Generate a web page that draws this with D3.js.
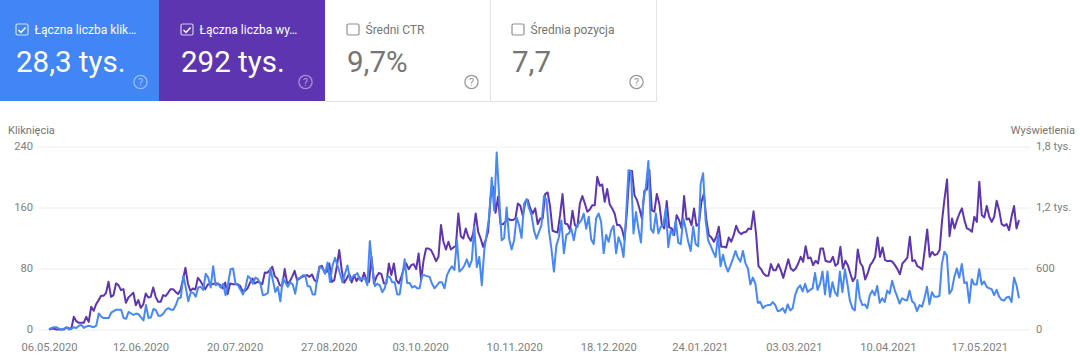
<!DOCTYPE html>
<html>
<head>
<meta charset="utf-8">
<script src="https://cdn.jsdelivr.net/npm/d3@7"></script>
<style>
  html, body { margin: 0; padding: 0; background: #fff; }
  svg { display: block; font-family: Roboto, sans-serif; }
</style>
</head>
<body>
<svg id="chart" width="1080" height="359"></svg>
<script>
// one value per day-ish step
var clicks = [
  0,2,3,3,1,0,1,3,0,1,3,2,5,6,2,4,5,4,3,5,
  21,17,15,15,15,22,24,26,26,26,15,14,23,21,19,21,20,16,12,32,
  15,16,27,25,18,18,21,26,28,26,26,32,41,42,70,55,37,49,48,43,
  55,56,52,73,68,55,83,58,60,55,60,45,60,79,80,60,58,52,46,55,
  70,67,60,68,66,60,45,46,
  48,80,65,49,56,37,67,62,56,62,59,47,67,68,71,71,57,56,46,46,
  73,82,80,73,88,62,84,94,84,73,62,73,84,65,69,71,74,65,67,67,
  58,116,82,57,60,58,49,54,69,69,62,62,46,46,69,92,61,61,55,57,
  54,54,71,71,70,69,60,54,58,62,62,54,71,78,83,78,117,76,79,84,
  92,82,91,135,82,95,58,104,126,148,199,156,232,174,117,120,160,119,105,117,
  147,137,120,165,171,159,150,130,119,
  128,137,175,170,130,106,76,110,121,143,100,124,126,132,117,135,139,143,152,132,
  148,118,112,146,152,141,100,124,115,130,136,100,121,112,95,148,209,207,126,154,
  132,114,170,187,221,132,127,152,126,135,137,159,108,130,124,143,114,112,146,132,
  115,103,135,112,109,191,205,143,117,110,102,95,124,83,98,84,76,84,93,103,
  94,89,103,87,80,59,68,60,35,36,28,31,32,32,36,32,24,25,28,22,
  33,25,28,45,54,58,50,60,49,
  52,54,74,52,60,76,46,76,43,62,49,44,76,49,79,60,38,28,25,65,
  41,32,33,28,45,51,45,57,35,41,36,51,47,64,52,43,34,41,39,38,
  51,37,34,24,32,30,41,56,33,49,43,43,44,86,102,97,47,52,69,80,
  68,86,61,62,35,66,59,59,79,59,63,56,54,53,45,52,43,39,38,42,
  43,36,68,58,41
];

var impressions = [
  0,7,7,0,0,0,0,20,13,7,125,82,66,66,66,125,75,223,184,249,
  289,331,331,361,469,321,338,453,436,387,397,262,315,338,361,239,289,213,246,354,
  315,321,413,321,272,272,338,328,361,397,397,371,348,387,492,607,453,380,403,394,
  508,479,436,397,443,446,446,453,453,436,403,462,348,453,446,446,446,430,380,380,
  403,459,502,453,469,462,446,561,558,
  584,617,525,502,436,426,594,453,469,518,577,485,502,518,525,535,518,541,485,469,
  617,626,567,567,649,469,485,617,781,584,459,502,551,462,535,476,518,476,558,485,
  469,715,453,518,558,544,453,453,649,535,649,485,453,518,594,649,594,633,643,594,
  748,485,682,797,797,781,731,672,715,1027,863,787,863,787,807,820,1141,918,895,994,
  912,872,945,1141,961,895,813,879,961,1299,1404,1148,1305,1036,1036,1059,1092,1076,1076,1092,
  1240,1217,1115,1256,1273,1191,1141,1191,1036,
  1092,1092,1332,1348,1207,971,961,955,1125,1332,1043,1036,977,1168,1027,1010,1240,1312,1240,1158,
  1181,1223,1223,1502,1414,1427,1256,1381,1233,1191,1141,1027,1027,987,879,1174,1561,1558,1322,1273,
  1191,1092,1364,1378,1568,1174,1158,1332,1240,1036,994,1263,1004,994,928,1125,1076,994,1312,1082,
  1092,1027,1191,1020,1043,1256,1338,1076,928,905,863,912,1010,813,813,807,905,863,928,1020,
  961,938,955,961,994,987,1164,945,623,594,551,528,528,643,584,584,643,584,508,600,
  692,600,577,600,649,715,666,820,699,
  708,633,676,649,797,797,676,666,666,715,626,649,813,600,676,633,551,476,512,787,
  656,617,492,551,633,666,715,905,715,807,682,672,676,666,633,594,544,649,676,708,
  912,672,682,623,610,590,781,984,715,764,731,741,781,1076,1289,1476,918,1092,994,1076,
  1141,1191,1076,994,984,961,1109,1059,1453,1125,1102,1214,1109,1059,1109,1266,1174,1036,1020,1036,
  977,1109,1214,994,1076
];

var tickDates = ["06.05.2020","12.06.2020","20.07.2020","27.08.2020","03.10.2020","10.11.2020",
  "18.12.2020","24.01.2021","03.03.2021","10.04.2021","17.05.2021"];
var clickTicks = [0, 80, 160, 240];
var impressionTicks = [0, 600, 1200, 1800];
var impressionLabels = ["0", "600", "1,2 tys.", "1,8 tys."];

var cardLabels = ["Łączna liczba klik…", "Łączna liczba wy…", "Średni CTR", "Średnia pozycja"];
var cardValues = ["28,3 tys.", "292 tys.", "9,7%", "7,7"];
var cardFills = ["#4285f4", "#5e35b1", "#fff", "#fff"];
var cardEdges = [0, 159, 325, 490, 656];
var cardChecked = [true, true, false, false];

var parseDay = d3.timeParse("%d.%m.%Y");
var formatDay = d3.timeFormat("%d.%m.%Y");
var startDay = parseDay("06.05.2020");
var endDay = parseDay("02.06.2021");

var svg = d3.select("#chart");

// cards on top
var card = svg.selectAll("g.card")
  .data(cardLabels)
  .enter()
  .append("g")
  .attr("class", "card")
  .attr("transform", (d, i) => "translate(" + cardEdges[i] + ",0)");

card.append("rect")
  .attr("width", (d, i) => cardEdges[i + 1] - cardEdges[i])
  .attr("height", 101)
  .attr("fill", (d, i) => cardFills[i]);

svg.append("path")
  .attr("d", "M325.5,101.5H656.5V0M490.5,0V101.5")
  .attr("fill", "none")
  .attr("stroke", "#e3e3e3");

var ink = (i) => cardChecked[i] ? "#fff" : "#757575";
// first card sits closer to the page edge
var pad = (i) => i == 0 ? 16 : 22;

card.append("rect")
  .attr("x", (d, i) => pad(i))
  .attr("y", 24)
  .attr("width", 12)
  .attr("height", 11)
  .attr("rx", 1.5)
  .attr("fill", "none")
  .attr("stroke", (d, i) => cardChecked[i] ? "rgba(255,255,255,.75)" : "#8f8f8f")
  .attr("stroke-width", 1.2);

card.filter((d, i) => cardChecked[i])
  .append("path")
  .attr("d", (d, i) => "M" + (pad(i) + 2.5) + ",30l2.5,2.5l4.5,-5")
  .attr("fill", "none")
  .attr("stroke", "#fff")
  .attr("stroke-width", 1.5);

card.append("text")
  .attr("x", (d, i) => pad(i) + 18.5)
  .attr("y", 33.5)
  .attr("font-size", 12)
  .attr("fill", (d, i) => ink(i))
  .text((d) => d);

card.append("text")
  .attr("x", (d, i) => pad(i))
  .attr("y", 72)
  .attr("font-size", 29.5)
  .attr("fill", (d, i) => ink(i))
  .text((d, i) => cardValues[i]);

card.append("circle")
  .attr("cx", (d, i) => pad(i) + 124.5)
  .attr("cy", 82)
  .attr("r", 6.6)
  .attr("fill", "none")
  .attr("stroke", (d, i) => cardChecked[i] ? "rgba(255,255,255,.45)" : "#999")
  .attr("stroke-width", 1.3);

card.append("text")
  .attr("x", (d, i) => pad(i) + 124.5)
  .attr("y", 86)
  .attr("text-anchor", "middle")
  .attr("font-size", 10.5)
  .attr("fill", (d, i) => cardChecked[i] ? "rgba(255,255,255,.5)" : "#999")
  .text("?");

// chart below
var xScale = d3.scaleTime()
  .domain([startDay, endDay])
  .range([49, 1019]);

var leftScale = d3.scaleLinear()
  .domain([0, 240])
  .range([329.5, 146.5]);

var rightScale = d3.scaleLinear()
  .domain([0, 1800])
  .range([329.5, 146.5]);

var gridAxis = d3.axisLeft(leftScale)
  .tickValues(clickTicks)
  .tickSize(-992)
  .tickFormat("");

svg.append("g")
  .attr("transform", "translate(38,0)")
  .call(gridAxis)
  .call((g) => g.select(".domain").remove())
  .selectAll("line")
  .attr("stroke", "#eeeeee");

var leftAxis = d3.axisLeft(leftScale)
  .tickValues(clickTicks)
  .tickSize(0);

svg.append("g")
  .attr("transform", "translate(36,-1)")
  .call(leftAxis)
  .call(styleAxis);

var rightAxis = d3.axisRight(rightScale)
  .tickValues(impressionTicks)
  .tickSize(0)
  .tickFormat((d, i) => impressionLabels[i]);

svg.append("g")
  .attr("transform", "translate(1033,-1)")
  .call(rightAxis)
  .call(styleAxis);

var bottomAxis = d3.axisBottom(xScale)
  .tickValues(tickDates.map(parseDay))
  .tickSize(0)
  .tickFormat(formatDay);

svg.append("g")
  .attr("transform", "translate(0,340)")
  .call(bottomAxis)
  .call(styleAxis);

function styleAxis(g) {
  g.select(".domain").remove();
  g.selectAll("text")
    .attr("font-family", "Roboto, sans-serif")
    .attr("font-size", 11.2)
    .attr("fill", "#808080");
}

svg.append("text")
  .attr("x", 8)
  .attr("y", 134)
  .attr("font-size", 11)
  .attr("fill", "#757575")
  .text("Kliknięcia");

svg.append("text")
  .attr("x", 1075)
  .attr("y", 134)
  .attr("text-anchor", "end")
  .attr("font-size", 11)
  .attr("fill", "#757575")
  .text("Wyświetlenia");

// samples were read at even steps, so spread them over the date range
function stepDate(i, n) {
  return new Date(+startDay + (endDay - startDay) * i / (n - 1));
}

function drawLine(values, yScale, color) {
  var line = d3.line()
    .x((d, i) => xScale(stepDate(i, values.length)))
    .y((d) => yScale(d))
    .curve(d3.curveLinear);

  svg.append("path")
    .datum(values)
    .attr("d", line)
    .attr("fill", "none")
    .attr("stroke", color)
    .attr("stroke-width", 2)
    .attr("stroke-linejoin", "round");
}

drawLine(impressions, rightScale, "#5e35b1");
drawLine(clicks, leftScale, "#4688f6");
</script>
</body>
</html>
